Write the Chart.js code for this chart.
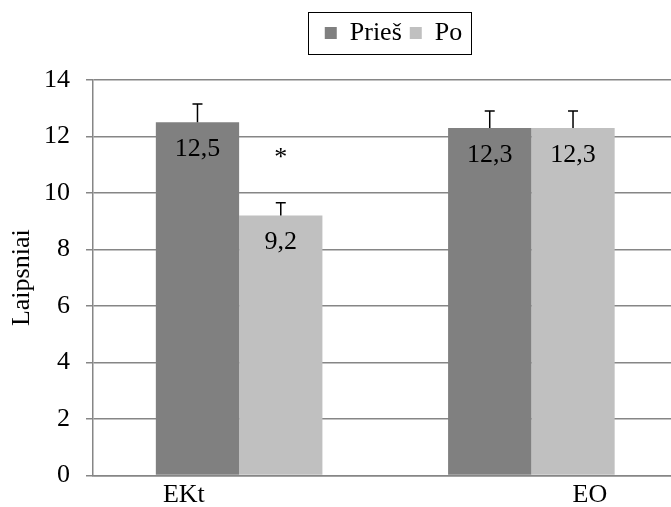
<!DOCTYPE html>
<html>
<head>
<meta charset="utf-8">
<script src="https://cdn.jsdelivr.net/npm/chart.js@4"></script>
<style>
  html, body { margin: 0; padding: 0; background: #fff; }
  #wrap { width: 671px; height: 507px; }
</style>
</head>
<body>
<div id="wrap"><canvas id="chart" width="671" height="507"></canvas></div>
<script>
// values
const categories = ['EKt', 'EO'];
const seriesNames = ['Prieš', 'Po'];
const before = [12.5, 12.3];
const after = [9.2, 12.3];
const beforeErr = [0.65, 0.6];
const afterErr = [0.45, 0.6];
const yTicks = [0, 2, 4, 6, 8, 10, 12, 14];
// significance mark over "Po" in EKt
const starCategory = 0;
const starValue = 11.4;

const serif = "'Liberation Serif', 'Times New Roman', serif";

// legend a bit lower-right and more room under it, x axis runs past the right edge
const tweakLayout = {
    id: 'tweakLayout',
    beforeInit(chart) {
        const fit = chart.legend.fit;
        chart.legend.fit = function () {
            fit.call(this);
            this.height += 24;
        };
    },
    afterLayout(chart) {
        const lg = chart.legend;
        lg.left += 57;
        lg.right += 57;
        (lg.legendHitBoxes || []).forEach(b => { b.left += 57; });

        const x = chart.scales.x;
        x.right += 6.5;
        x.width += 6.5;
        x.configure();
    }
};

// error bars, value labels, the asterisk and the legend box
const extras = {
    id: 'extras',
    afterDatasetsDraw(chart) {
        const ctx = chart.ctx;
        const y = chart.scales.y;
        const errs = [beforeErr, afterErr];
        ctx.save();
        chart.data.datasets.forEach((ds, di) => {
            const meta = chart.getDatasetMeta(di);
            meta.data.forEach((bar, i) => {
                const top = y.getPixelForValue(ds.data[i] + errs[di][i]);
                ctx.strokeStyle = '#000';
                ctx.lineWidth = 1.5;
                ctx.beginPath();
                ctx.moveTo(bar.x, bar.y);
                ctx.lineTo(bar.x, top);
                ctx.moveTo(bar.x - 5, top);
                ctx.lineTo(bar.x + 5, top);
                ctx.stroke();

                ctx.fillStyle = '#000';
                ctx.font = '26px ' + serif;
                ctx.textAlign = 'center';
                ctx.textBaseline = 'middle';
                ctx.fillText(String(ds.data[i]).replace('.', ','), bar.x, bar.y + 27);
            });
        });
        const starBar = chart.getDatasetMeta(1).data[starCategory];
        ctx.font = '26px ' + serif;
        ctx.textAlign = 'center';
        ctx.textBaseline = 'middle';
        ctx.fillText('*', starBar.x, y.getPixelForValue(starValue) + 5);
        ctx.restore();
    },
    afterDraw(chart) {
        const boxes = chart.legend.legendHitBoxes;
        if (!boxes || !boxes.length) return;
        const left = Math.min(...boxes.map(b => b.left)) - 17;
        const right = Math.max(...boxes.map(b => b.left + b.width)) + 9;
        const top = Math.min(...boxes.map(b => b.top)) - 8;
        const bottom = Math.max(...boxes.map(b => b.top + b.height)) + 8;
        const ctx = chart.ctx;
        ctx.save();
        ctx.strokeStyle = '#000';
        ctx.lineWidth = 1;
        ctx.strokeRect(Math.round(left) + 0.5, Math.round(top) + 0.5, Math.round(right - left), Math.round(bottom - top));
        ctx.restore();
    }
};

new Chart(document.getElementById('chart'), {
    type: 'bar',
    data: {
        labels: categories,
        datasets: [
            { label: seriesNames[0], data: before, backgroundColor: '#808080' },
            { label: seriesNames[1], data: after, backgroundColor: '#c0c0c0' }
        ]
    },
    options: {
        responsive: false,
        animation: false,
        categoryPercentage: 0.57,
        barPercentage: 1,
        layout: { padding: { top: 12, right: 0, bottom: 0, left: 2 } },
        plugins: {
            legend: {
                position: 'top',
                labels: {
                    boxWidth: 12,
                    boxHeight: 12,
                    padding: 8,
                    color: '#000',
                    font: { family: serif, size: 26 }
                }
            },
            tooltip: { enabled: false }
        },
        scales: {
            x: {
                grid: { display: false, drawTicks: false },
                border: { color: '#868686', width: 1.5 },
                afterFit: (axis) => { axis.height = 31; },
                ticks: {
                    color: '#000',
                    font: { family: serif, size: 26 },
                    maxRotation: 0,
                    padding: 4,
                    // the original labels sit off-centre
                    callback: (v, i) => i === 0 ? categories[i] + ' '.repeat(17) : ' '.repeat(18) + categories[i]
                }
            },
            y: {
                min: 0,
                max: 14,
                afterBuildTicks: (axis) => { axis.ticks = yTicks.map(v => ({ value: v })); },
                afterFit: (axis) => { axis.width = 91; },
                grid: { color: '#868686', lineWidth: 1.5, tickLength: 7 },
                border: { color: '#868686', width: 1.5 },
                ticks: {
                    color: '#000',
                    font: { family: serif, size: 26 },
                    padding: 16
                },
                title: {
                    display: true,
                    text: 'Laipsniai',
                    color: '#000',
                    font: { family: serif, size: 26 },
                    padding: { top: 5, bottom: 0 }
                }
            }
        }
    },
    plugins: [tweakLayout, extras]
});
</script>
</body>
</html>
